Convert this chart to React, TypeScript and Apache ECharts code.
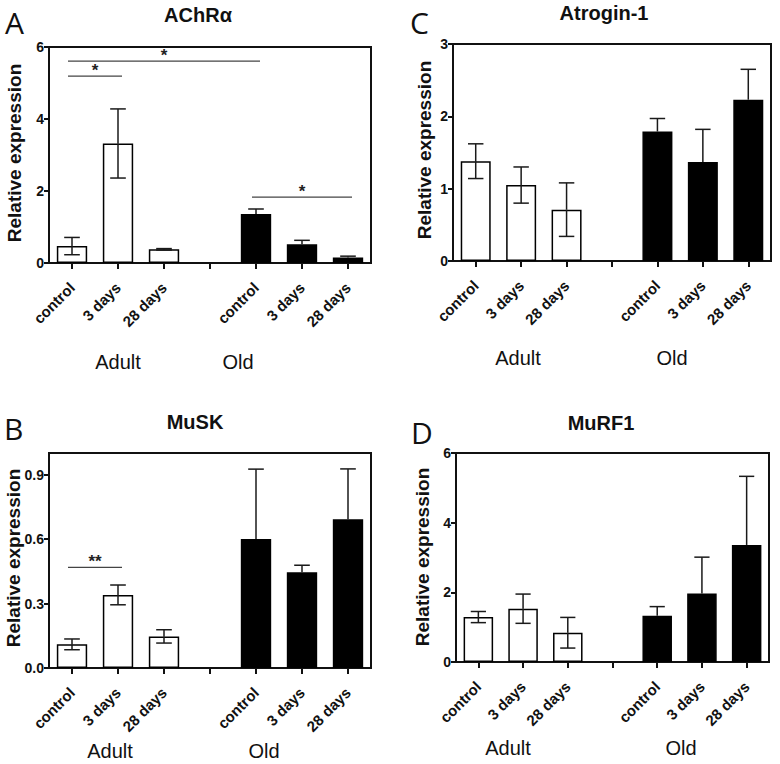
import React, { useEffect, useRef } from "react";
import * as echarts from "echarts";

// ---------- data ----------
const categories = ["control", "3 days", "28 days", "", "control", "3 days", "28 days"];
// 0 = Adult (open bars), 1 = Old (filled bars), null = spacer slot
const barGroup = [0, 0, 0, null, 1, 1, 1];
const groupLabels = ["Adult", "Old"];

const achrMean = [0.47, 3.32, 0.38, null, 1.36, 0.52, 0.15];
const achrErr = [0.24, 0.96, 0.02, null, 0.14, 0.11, 0.04];

const atroginMean = [1.38, 1.05, 0.71, null, 1.79, 1.37, 2.23];
const atroginErr = [0.24, 0.25, 0.37, null, 0.18, 0.45, 0.42];

const muskMean = [0.11, 0.34, 0.147, null, 0.6, 0.445, 0.692];
const muskErr = [0.025, 0.046, 0.031, null, 0.325, 0.033, 0.234];

const murfMean = [1.29, 1.53, 0.84, null, 1.33, 1.97, 3.36];
const murfErr = [0.16, 0.42, 0.44, null, 0.26, 1.04, 1.97];

// significance brackets: [fromIndex, toIndex, yValue, mark]
const achrSig: [number, number, number, string][] = [
  [0, 1, 5.19, "*"],
  [0, 4, 5.61, "*"],
  [4, 6, 1.83, "*"],
];
const muskSig: [number, number, number, string][] = [[0, 1, 0.468, "**"]];

const yAxisTitle = "Relative expression";

// ---------- layout ----------
const FONT = '"Liberation Sans", Arial, sans-serif';

const panels = [
  {
    letter: "A", title: "AChRα", mean: achrMean, err: achrErr, sig: achrSig,
    grid: { left: 49, top: 47, width: 322, height: 216 },
    yMin: 0, yMax: 6, yInt: 2, dec: 0,
    letterPos: [5, 37], titlePos: [198, 15], yNamePos: [14, 153],
    groupPos: [[118, 362], [238, 362]],
  },
  {
    letter: "C", title: "Atrogin-1", mean: atroginMean, err: atroginErr, sig: [],
    grid: { left: 453, top: 44, width: 318, height: 217 },
    yMin: 0, yMax: 3, yInt: 1, dec: 0,
    letterPos: [410, 37], titlePos: [604, 13], yNamePos: [424, 150],
    groupPos: [[518, 358], [672, 358]],
  },
  {
    letter: "B", title: "MuSK", mean: muskMean, err: muskErr, sig: muskSig,
    grid: { left: 49, top: 453, width: 322, height: 215 },
    yMin: 0, yMax: 1.0, yInt: 0.3, dec: 1,
    letterPos: [4, 443], titlePos: [195, 422], yNamePos: [13, 558],
    groupPos: [[110, 751], [264, 751]],
  },
  {
    letter: "D", title: "MuRF1", mean: murfMean, err: murfErr, sig: [],
    grid: { left: 456, top: 453, width: 313, height: 209 },
    yMin: 0, yMax: 6, yInt: 2, dec: 0,
    letterPos: [411, 447], titlePos: [601, 423], yNamePos: [422, 557],
    groupPos: [[508, 748], [681, 748]],
  },
];

function errorRender(_params: any, api: any) {
  const i = api.value(0);
  const m = api.value(1);
  const e = api.value(2);
  const filled = api.value(3) === 1;
  const top = api.coord([i, m + e]);
  const mid = api.coord([i, m]);
  const bot = api.coord([i, m - e]);
  const half = api.size([1, 0])[0] * 0.17;
  const style = { stroke: "#1a1a1a", lineWidth: 1.5 };
  const children: any[] = [
    { type: "line", shape: { x1: top[0], y1: top[1], x2: mid[0], y2: mid[1] }, style },
    { type: "line", shape: { x1: top[0] - half, y1: top[1], x2: top[0] + half, y2: top[1] }, style },
  ];
  if (!filled) {
    children.push(
      { type: "line", shape: { x1: mid[0], y1: mid[1], x2: bot[0], y2: bot[1] }, style },
      { type: "line", shape: { x1: bot[0] - half, y1: bot[1], x2: bot[0] + half, y2: bot[1] }, style }
    );
  }
  return { type: "group", children };
}

function makeSigRender(sig: [number, number, number, string][]) {
  return (params: any, api: any) => {
    const s = sig[params.dataIndex];
    const a = api.coord([s[0], s[2]]);
    const b = api.coord([s[1], s[2]]);
    const x1 = a[0] - 4;
    const x2 = b[0] + 4;
    return {
      type: "group",
      children: [
        { type: "line", shape: { x1, y1: a[1], x2, y2: a[1] }, style: { stroke: "#444", lineWidth: 1.3 } },
        {
          type: "text",
          x: (x1 + x2) / 2,
          y: a[1] + 3,
          style: {
            text: s[3], fill: "#222", fontSize: 17, fontWeight: "bold", fontFamily: FONT,
            align: "center", verticalAlign: "bottom",
          },
        },
      ],
    };
  };
}

export default function App() {
  const ref = useRef<HTMLDivElement>(null);

  useEffect(() => {
    if (!ref.current) return;
    const chart = echarts.init(ref.current, undefined, { renderer: "svg" });

    const grids: any[] = [];
    const xAxes: any[] = [];
    const yAxes: any[] = [];
    const series: any[] = [];
    const graphics: any[] = [];

    panels.forEach((p, k) => {
      grids.push({ ...p.grid, show: true, borderColor: "#111", borderWidth: 2, backgroundColor: "transparent", containLabel: false });
      xAxes.push({
        type: "category", gridIndex: k, data: categories,
        axisLine: { lineStyle: { color: "#111", width: 2 } },
        axisTick: { show: true, alignWithLabel: true, length: 6, lineStyle: { color: "#111", width: 2 } },
        axisLabel: {
          interval: 0, rotate: 45, margin: 22, color: "#111",
          fontSize: 15, fontWeight: "bold", fontFamily: FONT,
        },
        splitLine: { show: false },
      });
      yAxes.push({
        type: "value", gridIndex: k, min: p.yMin, max: p.yMax, interval: p.yInt,
        axisLine: { show: true, lineStyle: { color: "#111", width: 2 } },
        axisTick: { show: true, length: 5, lineStyle: { color: "#111", width: 2 } },
        axisLabel: {
          color: "#111", fontSize: 14, fontWeight: "bold", fontFamily: FONT, margin: 5,
          showMaxLabel: p.dec === 0,
          formatter: (v: number) => v.toFixed(p.dec),
        },
        splitLine: { show: false },
      });
      series.push({
        type: "bar", xAxisIndex: k, yAxisIndex: k, barWidth: "66%",
        data: p.mean.map((v, i) =>
          v == null
            ? "-"
            : {
                value: v,
                itemStyle: { color: barGroup[i] === 1 ? "#000" : "#fff", borderColor: "#000", borderWidth: 1.5 },
              }
        ),
      });
      series.push({
        type: "custom", xAxisIndex: k, yAxisIndex: k, z: 5,
        renderItem: errorRender,
        encode: { x: 0, y: 1 },
        data: p.mean
          .map((v, i) => (v == null ? null : [i, v, p.err[i], barGroup[i]]))
          .filter((d) => d !== null),
      });
      if (p.sig.length) {
        series.push({
          type: "custom", xAxisIndex: k, yAxisIndex: k, z: 6,
          renderItem: makeSigRender(p.sig as any),
          encode: { x: 0, y: 2 },
          data: (p.sig as any[]).map((s) => [s[0], s[1], s[2]]),
        });
      }

      graphics.push({
        type: "text", x: p.letterPos[0], y: p.letterPos[1],
        style: { text: p.letter, fill: "#111", fontSize: 30, fontFamily: '"Open Sans", sans-serif', align: "left", verticalAlign: "bottom" },
      });
      graphics.push({
        type: "text", x: p.titlePos[0], y: p.titlePos[1],
        style: { text: p.title, fill: "#111", fontSize: 20, fontWeight: "bold", fontFamily: FONT, align: "center", verticalAlign: "middle" },
      });
      graphics.push({
        type: "text", x: p.yNamePos[0], y: p.yNamePos[1], rotation: Math.PI / 2,
        style: { text: yAxisTitle, fill: "#111", fontSize: 19, fontWeight: "bold", fontFamily: FONT, align: "center", verticalAlign: "middle" },
      });
      p.groupPos.forEach((gp, gi) => {
        graphics.push({
          type: "text", x: gp[0], y: gp[1],
          style: { text: groupLabels[gi], fill: "#111", fontSize: 20, fontFamily: FONT, align: "center", verticalAlign: "middle" },
        });
      });
    });

    chart.setOption({
      animation: false,
      backgroundColor: "#fff",
      grid: grids,
      xAxis: xAxes,
      yAxis: yAxes,
      series,
      graphic: graphics,
    });

    return () => chart.dispose();
  }, []);

  return (
    <div
      ref={ref}
      style={{ position: "fixed", left: 0, top: 0, width: 780, height: 764, background: "#fff" }}
    />
  );
}
